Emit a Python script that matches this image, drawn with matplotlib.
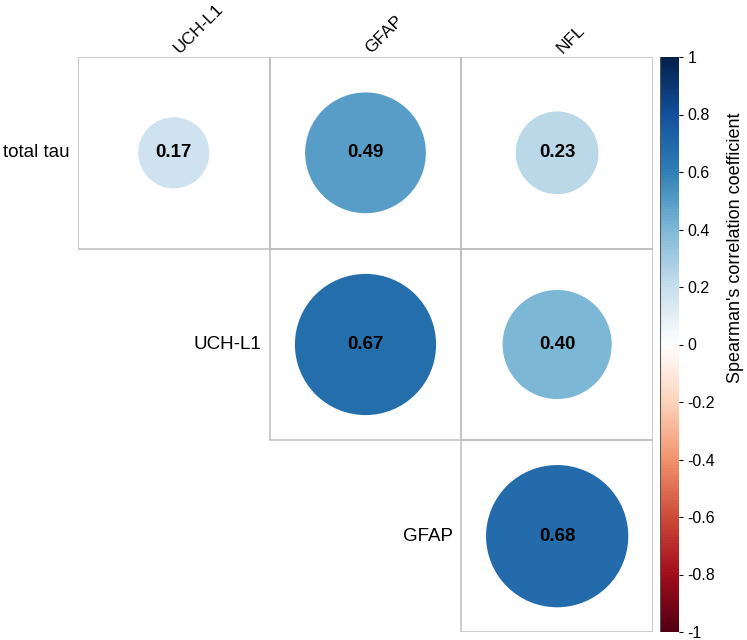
import matplotlib
matplotlib.use("Agg")
import matplotlib.pyplot as plt
import numpy as np
from matplotlib.colors import LinearSegmentedColormap, Normalize, to_rgb
from matplotlib.patches import Circle, Rectangle
import matplotlib.colorbar as mcolorbar

plt.rcParams['font.family'] = ['Liberation Sans', 'DejaVu Sans']

# data
row_labels = ['total tau', 'UCH-L1', 'GFAP']
col_labels = ['UCH-L1', 'GFAP', 'NFL']
# upper triangle, NaN = empty cell
corr = np.array([
    [0.17, 0.49, 0.23],
    [np.nan, 0.67, 0.40],
    [np.nan, np.nan, 0.68],
])
cbar_ticks = [-1, -0.8, -0.6, -0.4, -0.2, 0, 0.2, 0.4, 0.6, 0.8, 1]
cbar_label = "Spearman's correlation coefficient"

rdbu = ["#67001F", "#B2182B", "#D6604D", "#F4A582", "#FDDBC7", "#FFFFFF",
        "#D1E5F0", "#92C5DE", "#4393C3", "#2166AC", "#053061"]
# reference looks a bit darker than plain RdBu -> small gamma tweak
rdbu = [tuple(c ** 1.25 for c in to_rgb(h)) for h in rdbu]
cmap = LinearSegmentedColormap.from_list('corr', rdbu, N=200)
norm = Normalize(-1, 1)

fig = plt.figure(figsize=(7.47, 6.4), dpi=100)
ax = fig.add_axes([78 / 747, 8 / 640, 575 / 747, 575 / 640])
ax.set_xlim(0, 3)
ax.set_ylim(3, 0)
ax.set_aspect('equal')
ax.axis('off')

n = corr.shape[0]
for i in range(n):
    for j in range(n):
        r = corr[i, j]
        if np.isnan(r):
            continue
        ax.add_patch(Rectangle((j, i), 1, 1, fill=False, ec='#BEBEBE', lw=1.1))
        rad = 0.45 * np.sqrt(abs(r))
        ax.add_patch(Circle((j + 0.5, i + 0.5), rad, fc=cmap(norm(r)), ec='none'))
        ax.text(j + 0.5, i + 0.5, f'{r:.2f}', ha='center', va='center',
                fontsize=13.5, fontweight='bold', color='black')

# row labels, placed left of first filled cell
for i, lab in enumerate(row_labels):
    first = np.where(~np.isnan(corr[i]))[0][0]
    ax.text(first - 0.045, i + 0.5, lab, ha='right', va='center', fontsize=13.5)

# column labels on top, rotated
for j, lab in enumerate(col_labels):
    ax.text(j + 0.53, -0.015, lab, ha='left', va='baseline', rotation=45,
            rotation_mode='anchor', fontsize=12.5)

cax = fig.add_axes([660 / 747, 8 / 640, 19 / 747, 575 / 640])
cb = mcolorbar.ColorbarBase(cax, cmap=cmap, norm=norm, ticks=cbar_ticks)
cb.outline.set_visible(False)
cax.axvline(0, color='#555555', lw=0.8)
cb.ax.set_yticklabels([f'{t:g}' for t in cbar_ticks])
cb.ax.tick_params(labelsize=11.5, length=3, width=0.8, pad=3)
fig.text(736 / 747, 1 - 248 / 640, cbar_label, rotation=90, ha='center',
         va='center', fontsize=13)

fig.savefig('out.png', dpi=100)
